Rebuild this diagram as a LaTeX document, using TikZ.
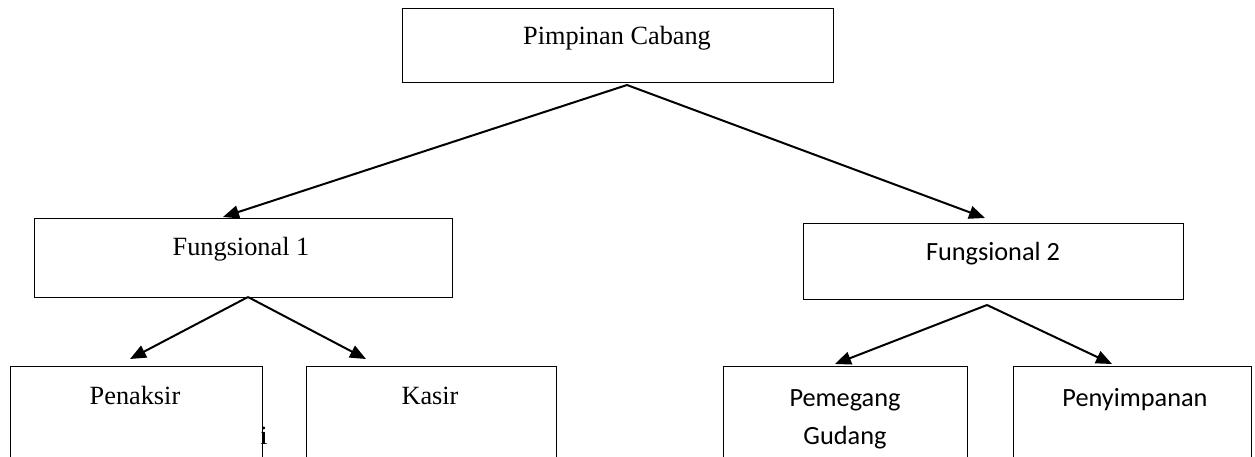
\documentclass[tikz,border=0pt]{standalone}
\usepackage{fontspec}
\setmainfont{Liberation Serif}
\newfontfamily\calfont{Carlito}
\usetikzlibrary{arrows.meta}
\begin{document}
\begin{tikzpicture}[x=1pt,y=-1pt,
  box/.style={draw, line width=1.3pt, rectangle, inner sep=0pt, anchor=north west},
  tnr/.style={font=\fontsize{26.3}{30}\selectfont, anchor=base, inner sep=0pt},
  cal/.style={font=\calfont\fontsize{26.3}{38}\selectfont, anchor=base, inner sep=0pt, align=center},
  arr/.style={line width=2pt, -{Triangle[length=16pt,width=13pt]}}]
\useasboundingbox (0,0) rectangle (1255,457);
\clip (0,0) rectangle (1255,457);
% boxes
\node[box, minimum width=431pt, minimum height=74pt] (pc) at (402,8) {};
\node[box, minimum width=418pt, minimum height=79pt] (f1) at (34,218) {};
\node[box, minimum width=380pt, minimum height=76pt] (f2) at (803,223) {};
\node[box, minimum width=252pt, minimum height=110pt] (pen) at (10,366) {};
\node[box, minimum width=250pt, minimum height=110pt] (kas) at (306,366) {};
\node[box, minimum width=244pt, minimum height=110pt] (pem) at (723,366) {};
\node[box, minimum width=238pt, minimum height=110pt] (peny) at (1013,366) {};
% texts
\node[tnr] (tpc) at (617,45) {Pimpinan Cabang};
\node[tnr] (tf1) at (241,255) {Fungsional 1};
\node[cal] (tf2) at (993,260) {Fungsional 2};
\node[tnr] (tpen) at (135,404) {Penaksir};
\node[tnr] (ti) at (264,444) {i};
\node[tnr] (tkas) at (430,404) {Kasir};
\node[cal] (tpem) at (845,444) {Pemegang\\Gudang};
\node[cal] (tpeny) at (1135,406) {Penyimpanan};
% connector points
\coordinate (pcout) at (627,85);
\coordinate (f1in) at (223,217);
\coordinate (f2in) at (985,218);
\coordinate (f1out) at (248,297);
\coordinate (penin) at (130,359);
\coordinate (kasin) at (366,359);
\coordinate (f2out) at (987,305);
\coordinate (pemin) at (835,364);
\coordinate (penyin) at (1112,364);
% connectors
\draw[arr] (pcout) -- (f1in);
\draw[arr] (pcout) -- (f2in);
\draw[arr] (f1out) -- (penin);
\draw[arr] (f1out) -- (kasin);
\draw[arr] (f2out) -- (pemin);
\draw[arr] (f2out) -- (penyin);
\end{tikzpicture}
\end{document}
